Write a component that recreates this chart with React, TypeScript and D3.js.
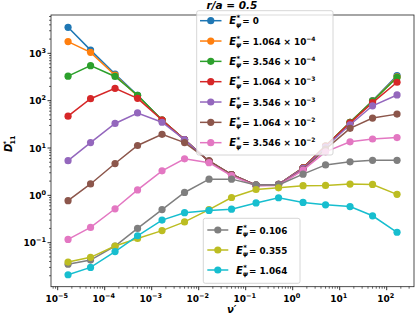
import React from 'react'
import * as d3 from 'd3'

// collisionality nu'
const nu = [1.66e-5, 5e-5, 1.66e-4, 5e-4, 1.66e-3, 5e-3, 1.66e-2, 5e-2, 0.166, 0.5, 1.66, 5, 16.6, 50, 166]

const d0 = [3550, 1170, 365, 130, 39, 15, 5.2, 2.75, 1.64, 1.7, 3.8, 11, 35, 100, 340]
const d1 = [1770, 1050, 345, 126, 39, 15, 5.2, 2.75, 1.64, 1.7, 3.8, 11, 35, 98, 320]
const d2 = [330, 550, 325, 130, 39, 15, 5.2, 2.75, 1.64, 1.7, 3.8, 11, 35, 98, 310]
const d3v = [47, 110, 182, 112, 39, 15, 5.2, 2.75, 1.64, 1.7, 3.8, 11, 34, 91, 245]
const d4 = [5.4, 13, 33, 55, 35, 15, 5.2, 2.75, 1.64, 1.7, 3.7, 10.5, 31, 78, 132]
const d5 = [0.77, 1.74, 4.7, 11.3, 19.5, 13, 5.4, 2.75, 1.62, 1.66, 3.5, 9.5, 26, 43, 52]
const d6 = [0.117, 0.21, 0.52, 1.3, 3.3, 5.9, 4.9, 2.6, 1.6, 1.62, 3.4, 8.3, 13.5, 15.5, 16.6]
const d7 = [0.035, 0.043, 0.085, 0.2, 0.5, 1.15, 2.2, 2.2, 1.66, 1.66, 2.8, 4.4, 5.1, 5.5, 5.5]
const d8 = [0.039, 0.049, 0.085, 0.123, 0.18, 0.275, 0.5, 0.9, 1.33, 1.44, 1.6, 1.62, 1.73, 1.7, 1.05]
const d9 = [0.021, 0.03, 0.065, 0.14, 0.3, 0.43, 0.48, 0.51, 0.69, 0.89, 0.71, 0.63, 0.58, 0.37, 0.166]

const series = [d0, d1, d2, d3v, d4, d5, d6, d7, d8, d9]
const colors = ['#1f77b4', '#ff7f0e', '#2ca02c', '#d62728', '#9467bd', '#8c564b', '#e377c2', '#7f7f7f', '#bcbd22', '#17becf']
const eMant = ['0', '1.064', '3.546', '1.064', '3.546', '1.064', '3.546', '0.106', '0.355', '1.064']
const eExp = ['', '−4', '−4', '−3', '−3', '−2', '−2', '', '', '']

const xExps = [-5, -4, -3, -2, -1, 0, 1, 2]
const yExps = [-1, 0, 1, 2, 3]

const W = 415
const H = 319
const left = 51
const right = 414
const top = 15
const bottom = 286.7
const font = 'DejaVu Sans'

const x = d3.scaleLog().domain([Math.pow(10, -5.1426), Math.pow(10, 2.581)]).range([left, right])
const y = d3.scaleLog().domain([Math.pow(10, -1.93), Math.pow(10, 3.81)]).range([bottom, top])

const minor = (lo: number, hi: number, scale: d3.ScaleLogarithmic<number, number>) => {
  const out: number[] = []
  const [a, b] = scale.domain()
  for (let e = lo; e <= hi; e++) {
    for (let k = 2; k <= 9; k++) {
      const v = k * Math.pow(10, e)
      if (v >= a && v <= b) out.push(v)
    }
  }
  return out
}

const Label = ({ lx, ly, i }: { lx: number; ly: number; i: number }) => (
  <g fontFamily={font} fontWeight="bold">
    <text x={lx} y={ly + 3.5} fontSize={10} fontStyle="italic">E</text>
    <text x={lx + 7.2} y={ly - 0.5} fontSize={7} fontStyle="italic">*</text>
    <text x={lx + 6.8} y={ly + 6} fontSize={6.5} fontStyle="italic">ψ</text>
    <text x={lx + 13} y={ly + 3.5} fontSize={8.8}>
      {'= ' + eMant[i] + (eExp[i] ? ' × 10' : '')}
      {eExp[i] ? <tspan dy={-4} fontSize={6}>{eExp[i]}</tspan> : null}
    </text>
  </g>
)

const LegendRow = ({ i, ly, x0, x1, tx }: { i: number; ly: number; x0: number; x1: number; tx: number }) => (
  <g>
    <line x1={x0} x2={x1} y1={ly} y2={ly} stroke={colors[i]} strokeWidth={1.5} />
    <circle cx={(x0 + x1) / 2} cy={ly} r={3.6} fill={colors[i]} />
    <Label lx={tx} ly={ly} i={i} />
  </g>
)

export default function App() {
  const line = d3.line<number>().x((_, j) => x(nu[j])).y(d => y(d))
  return (
    <svg width={W} height={H} style={{ display: 'block', position: 'absolute', left: 0, top: 0 }}>
      <rect width={W} height={H} fill="#fff" />
      <defs>
        <clipPath id="plot">
          <rect x={left} y={top} width={right - left} height={bottom - top} />
        </clipPath>
      </defs>
      <g clipPath="url(#plot)">
        {series.map((s, i) => (
          <g key={i}>
            <path d={line(s) || ''} fill="none" stroke={colors[i]} strokeWidth={1.5} />
            {s.map((v, j) => (
              <circle key={j} cx={x(nu[j])} cy={y(v)} r={3.6} fill={colors[i]} />
            ))}
          </g>
        ))}
      </g>
      {/* frame */}
      <rect x={left} y={top} width={right - left} height={bottom - top} fill="none" stroke="#222" strokeWidth={0.8} />
      {/* x ticks */}
      {minor(-6, 2, x).map((v, i) => (
        <line key={'xm' + i} x1={x(v)} x2={x(v)} y1={bottom} y2={bottom + 2} stroke="#000" strokeWidth={0.6} />
      ))}
      {xExps.map(e => {
        const px = x(Math.pow(10, e))
        return (
          <g key={'x' + e}>
            <line x1={px} x2={px} y1={bottom} y2={bottom + 3.5} stroke="#000" strokeWidth={0.8} />
            <text x={px - 1} y={bottom + 15} fontFamily={font} fontWeight="bold" fontSize={9} textAnchor="middle">
              10<tspan dy={-4} fontSize={6.5}>{(e < 0 ? '−' : '') + Math.abs(e)}</tspan>
            </text>
          </g>
        )
      })}
      {/* y ticks */}
      {minor(-2, 3, y).map((v, i) => (
        <line key={'ym' + i} x1={left - 2} x2={left} y1={y(v)} y2={y(v)} stroke="#000" strokeWidth={0.6} />
      ))}
      {yExps.map(e => {
        const py = y(Math.pow(10, e))
        return (
          <g key={'y' + e}>
            <line x1={left - 3.5} x2={left} y1={py} y2={py} stroke="#000" strokeWidth={0.8} />
            <text x={left - 5} y={py + 3.5} fontFamily={font} fontWeight="bold" fontSize={9} textAnchor="end">
              10<tspan dy={-4} fontSize={6.5}>{(e < 0 ? '−' : '') + Math.abs(e)}</tspan>
            </text>
          </g>
        )
      })}
      {/* axis labels */}
      <g transform="translate(12,145) rotate(-90)" fontFamily={font} fontWeight="bold" fontStyle="italic">
        <text x={-7} y={0} fontSize={10}>D</text>
        <text x={0.5} y={-4} fontSize={6.5}>*</text>
        <text x={0.5} y={2.5} fontSize={6.5} fontStyle="normal">11</text>
      </g>
      <text x={231.7} y={313} fontFamily={font} fontWeight="bold" fontStyle="italic" fontSize={10} textAnchor="middle">ν′</text>
      {/* title */}
      <text x={232} y={9} fontFamily={font} fontWeight="bold" fontStyle="italic" fontSize={10.5} textAnchor="middle">
        r/a = 0.5
      </text>
      {/* legend 1 */}
      <rect x={196.7} y={10.7} width={136.3} height={144.3} rx={2} fill="#fff" fillOpacity={0.8} stroke="#ccc" strokeWidth={0.8} />
      {[0, 1, 2, 3, 4, 5, 6].map(i => (
        <LegendRow key={i} i={i} ly={20.7 + i * 20.33} x0={200} x1={221.5} tx={229.3} />
      ))}
      {/* legend 2 */}
      <rect x={203.3} y={218.3} width={96.7} height={65} rx={2} fill="#fff" fillOpacity={0.8} stroke="#ccc" strokeWidth={0.8} />
      {[7, 8, 9].map((i, k) => (
        <LegendRow key={i} i={i} ly={230 + k * 20} x0={207.3} x1={228.3} tx={236} />
      ))}
    </svg>
  )
}
